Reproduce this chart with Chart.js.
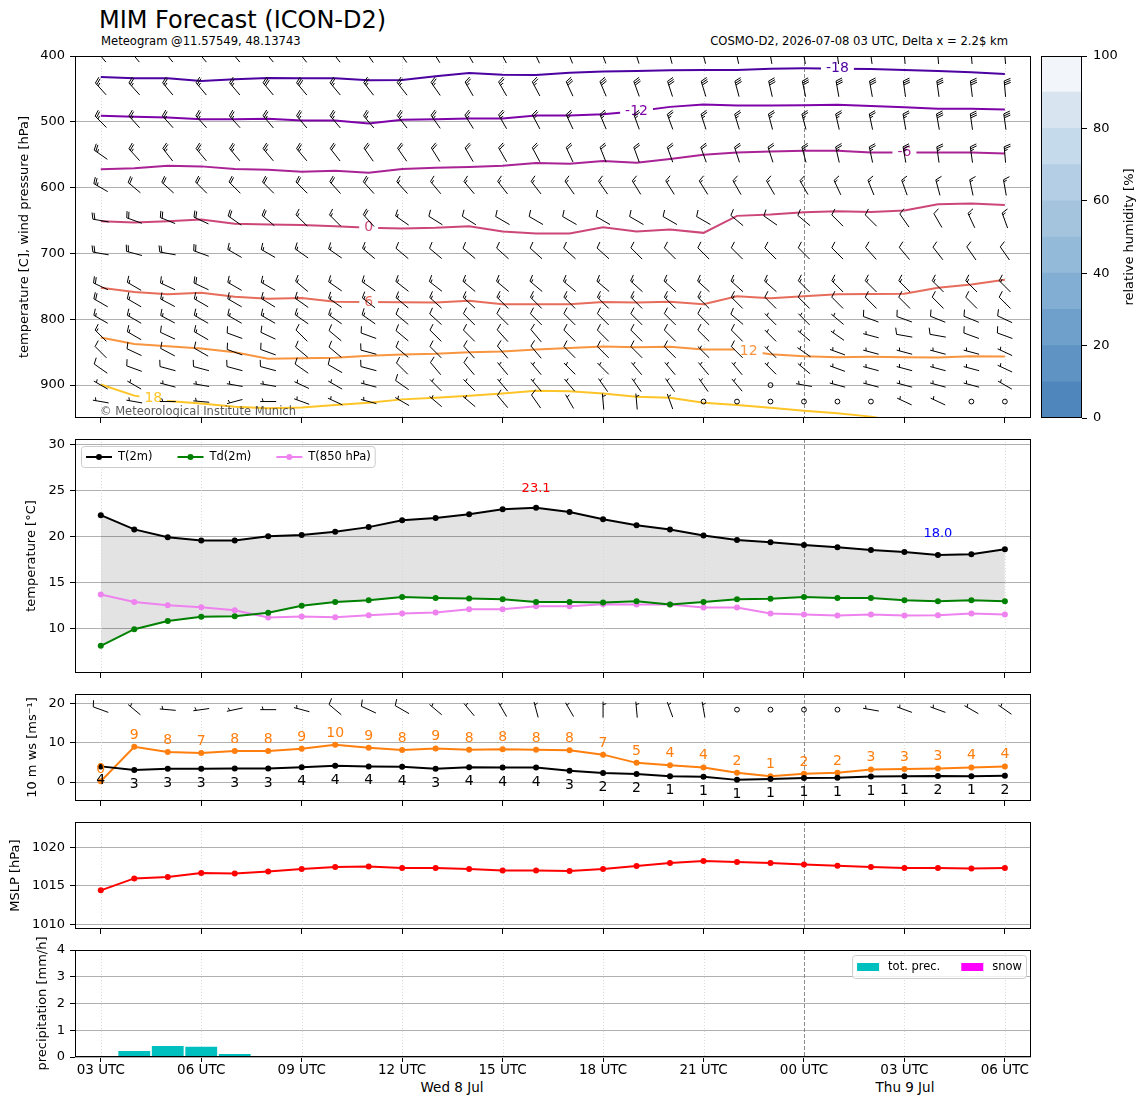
<!DOCTYPE html>
<html><head><meta charset="utf-8">
<script src="https://cdn.jsdelivr.net/npm/chart.js@4.4.1/dist/chart.umd.min.js"></script>
<style>
html,body{margin:0;padding:0;background:#fff;}
body{width:1148px;height:1105px;position:relative;overflow:hidden;font-family:'DejaVu Sans',sans-serif;}
canvas{position:absolute;}
.txt{position:absolute;white-space:nowrap;line-height:1;color:#000;}
</style></head><body>
<div class="txt" style="left:99px;top:8px;font-size:24px;">MIM Forecast (ICON-D2)</div>
<div class="txt" style="left:101px;top:36px;font-size:11.6px;">Meteogram @11.57549, 48.13743</div>
<div class="txt" style="right:140px;top:36px;font-size:11.6px;">COSMO-D2, 2026-07-08 03 UTC, Delta x = 2.2$ km</div>
<div class="txt" style="left:452px;top:1081px;font-size:13.5px;transform:translateX(-50%);">Wed 8 Jul</div>
<div class="txt" style="left:905px;top:1081px;font-size:13.5px;transform:translateX(-50%);">Thu 9 Jul</div>
<canvas id="c1" width="1148" height="384" style="left:0;top:46px;width:1148px;height:384px"></canvas>
<canvas id="cb" width="117" height="384" style="left:1031px;top:46px;width:117px;height:384px"></canvas>
<canvas id="c2" width="1148" height="256" style="left:0;top:429px;width:1148px;height:256px"></canvas>
<canvas id="c3" width="1148" height="129" style="left:0;top:684px;width:1148px;height:129px"></canvas>
<canvas id="c4" width="1148" height="129" style="left:0;top:812px;width:1148px;height:129px"></canvas>
<canvas id="c5" width="1148" height="185" style="left:0;top:920px;width:1148px;height:185px"></canvas>
<script>
// ---------------- time axis ----------------
const hours = [0,1,2,3,4,5,6,7,8,9,10,11,12,13,14,15,16,17,18,19,20,21,22,23,24,25,26,27];
const tickHours = [0,3,6,9,12,15,18,21,24,27];
const tickLabels = ['03 UTC','06 UTC','09 UTC','12 UTC','15 UTC','18 UTC','21 UTC','00 UTC','03 UTC','06 UTC'];
const MIDNIGHT = 21;
const X_MIN = -0.77, X_MAX = 27.78;

// ---------------- panel 1: isotherms (pressure of isotherm, hPa) ----------------
const pressureTicks = [400,500,600,700,800,900];
const isoLevels = [-18,-12,-6,0,6,12,18];
const isoM18 = [431.8,433.8,433.8,437.9,435.4,433.3,433.8,433.8,436.9,436.4,430.8,425.8,428.3,428.8,425.5,423.7,422.7,421.7,421.2,421.2,419.2,418.7,419.2,419.7,421.2,422.7,424.7,427.3];
const isoM12 = [490.9,492.4,493.4,496.0,496.0,495.5,498.0,498.0,502.5,497.0,496.0,495.0,495.0,490.4,490.5,488.4,484.0,477.3,473.7,475.3,475.3,474.7,474.2,475.8,477.8,480.3,480.3,481.3];
const isoM6 = [572.2,570.7,566.7,567.7,571.7,572.7,575.8,574.2,577.3,571.7,569.7,568.7,566.7,562.6,563.8,559.6,562.1,556.6,550.0,546.5,545.0,543.9,543.9,546.5,546.5,546.5,546.5,548.0];
const iso0 = [651.0,653.0,651.0,648.5,655.0,656.0,656.6,658.6,661.0,662.0,661.0,658.6,666.7,669.7,669.5,660.1,666.7,663.6,668.7,642.9,640.9,637.4,635.9,636.9,634.8,625.3,624.2,626.3];
const iso6 = [752.0,758.6,762.0,759.6,765.7,768.7,767.7,773.2,773.7,774.2,774.7,771.7,777.3,777.3,777.0,773.7,774.7,773.2,777.3,765.2,768.2,765.2,762.1,761.6,761.1,752.0,747.0,739.9];
const iso12 = [827.8,837.4,840.9,844.4,850.0,860.1,859.1,858.6,855.6,853.5,852.5,850.0,849.0,846.0,843.7,841.4,842.4,841.9,846.0,846.0,853.0,856.0,857.6,857.1,857.6,858.1,856.0,856.6];
const iso18 = [899.0,916.0,924.0,928.0,932.8,935.0,934.0,930.3,926.8,921.7,919.2,916.2,912.6,908.6,909.5,912.6,917.7,919.2,926.8,930.3,934.3,938.9,942.9,947.9,956.0,null,null,null];
const isoSeries = [isoM18, isoM12, isoM6, iso0, iso6, iso12, iso18];
const isoColors = ['#4c02a1','#7e03a8','#a92395','#cc4778','#e66c5c','#f89540','#fdc527'];
const isoLabelAt = [22, 16, 24, 8, 8, 19.35, 1.57];

// ---------------- panel 1: wind barbs (direction deg, speed kt) ----------------
const barbLevels = [400,450,500,550,600,650,700,750,775,800,825,850,875,900,925];
const dir400 = [320,320,320,320,320,320,322,322,325,325,328,330,332,335,338,340,342,345,345,348,350,350,352,352,355,355,355,355];
const spd400 = [25,25,25,25,25,25,25,25,25,25,25,25,30,30,30,30,30,30,30,30,30,30,30,30,30,30,30,30];
const dir450 = [318,318,320,320,320,320,320,320,322,322,325,330,330,332,335,337,340,342,343,345,347,348,350,350,352,352,353,355];
const spd450 = [25,25,25,25,25,30,30,25,25,25,25,25,25,25,30,30,30,30,30,30,30,30,30,30,30,30,30,30];
const dir500 = [315,318,318,318,318,320,320,320,320,322,325,328,330,332,335,337,340,340,342,343,345,345,347,348,350,350,352,352];
const spd500 = [25,25,25,25,25,25,25,25,25,25,25,25,25,25,25,25,25,25,25,25,25,25,25,25,25,30,30,30];
const dir550 = [305,318,322,320,320,320,320,322,325,325,328,330,330,332,335,338,340,340,340,342,342,345,347,348,350,352,352,355];
const spd550 = [25,25,25,25,25,25,25,20,20,20,20,20,20,20,20,20,20,20,20,20,20,25,25,25,25,25,25,25];
const dir600 = [300,310,312,315,315,315,315,318,318,318,320,320,322,322,325,325,328,328,328,330,330,330,335,338,340,345,348,350];
const spd600 = [25,20,20,20,20,20,20,20,20,15,15,15,15,15,15,15,15,15,15,15,15,15,15,15,15,15,15,15];
const dir650 = [280,290,292,295,305,310,315,315,318,305,302,302,300,300,300,300,300,300,300,310,305,310,315,315,325,330,335,340];
const spd650 = [20,20,20,20,20,20,15,15,20,15,10,10,10,10,10,10,10,10,10,10,10,10,10,10,10,10,15,15];
const dir700 = [280,285,280,290,300,300,305,305,310,310,310,310,312,312,312,312,315,315,315,315,315,315,315,318,320,322,325,325];
const spd700 = [20,20,20,20,15,15,15,15,15,10,10,10,10,10,10,10,10,10,10,10,10,10,10,10,10,10,10,10];
const dir750 = [295,300,295,295,300,300,310,305,305,308,308,310,310,310,310,310,312,312,312,312,312,315,315,315,315,315,315,315];
const spd750 = [20,15,15,20,15,15,15,15,15,15,15,15,15,15,15,15,15,15,15,15,15,15,15,15,15,15,15,15];
const dir775 = [300,300,298,300,300,302,305,305,308,310,312,312,315,315,315,315,315,315,315,315,315,315,315,315,315,315,315,315];
const spd775 = [20,15,15,15,15,15,15,15,15,15,15,15,15,15,15,15,15,15,15,15,10,10,10,10,10,10,10,10];
const dir800 = [300,300,298,300,300,300,305,305,305,310,312,315,315,315,315,315,315,315,315,310,315,315,310,290,290,292,292,295];
const spd800 = [15,15,15,15,15,15,15,15,15,10,10,10,10,10,10,10,10,10,10,10,5,5,5,10,10,10,10,10];
const dir825 = [315,300,295,300,290,295,315,310,290,310,315,315,318,320,315,315,315,315,315,315,315,310,305,285,280,280,290,290];
const spd825 = [15,15,10,15,10,10,10,10,10,10,10,10,10,10,10,10,10,10,10,10,5,5,5,5,10,10,10,10];
const dir850 = [315,295,298,300,290,290,310,310,285,310,315,318,320,320,315,315,315,315,315,315,315,305,290,285,285,285,285,295];
const spd850 = [10,10,10,10,10,10,10,10,10,10,10,10,10,10,10,10,10,10,5,10,5,5,5,5,5,5,5,5];
const dir875 = [305,290,285,285,285,285,305,300,285,315,320,320,320,320,315,315,320,320,320,320,315,310,290,285,285,285,285,295];
const spd875 = [10,10,10,10,10,10,10,10,10,10,10,10,5,5,5,5,5,5,5,5,5,5,5,5,5,5,5,5];
const dir900 = [300,300,285,280,280,280,295,300,285,305,315,315,320,320,320,325,325,325,325,320,0,280,285,285,285,285,285,300];
const spd900 = [5,5,5,5,5,5,5,5,5,10,5,5,5,5,5,5,5,5,5,5,0,5,5,5,5,5,5,5];
const dir925 = [280,280,270,275,255,270,290,295,285,300,310,310,320,325,330,355,355,340,0,0,0,0,0,0,295,295,0,0];
const spd925 = [5,5,5,5,5,5,5,5,5,5,5,5,10,10,5,5,5,5,0,0,0,0,0,0,5,5,0,0];
const barbDirs = [dir400,dir450,dir500,dir550,dir600,dir650,dir700,dir750,dir775,dir800,dir825,dir850,dir875,dir900,dir925];
const barbSpds = [spd400,spd450,spd500,spd550,spd600,spd650,spd700,spd750,spd775,spd800,spd825,spd850,spd875,spd900,spd925];

// relative humidity colour bar
const rhBounds = [0,10,20,30,40,50,60,70,80,90,100];
const rhColors = ['#4f86bb','#5e93c3','#6fa0cb','#83aed3','#94bad9','#a4c4de','#b4cfe5','#c5daea','#d8e4f0','#f2f6fa'];
const rhTicks = [0,20,40,60,80,100];

// ---------------- panel 2: temperatures ----------------
const t2m = [22.3,20.75,19.9,19.55,19.55,20.0,20.15,20.5,21.0,21.75,22.0,22.4,22.95,23.1,22.65,21.85,21.2,20.75,20.1,19.6,19.35,19.05,18.8,18.5,18.3,17.98,18.05,18.6];
const td2m = [8.1,9.9,10.8,11.25,11.3,11.7,12.45,12.85,13.05,13.4,13.3,13.25,13.15,12.85,12.85,12.8,12.95,12.6,12.85,13.15,13.2,13.4,13.3,13.3,13.05,12.95,13.05,12.95];
const t850 = [13.67,12.87,12.51,12.29,11.97,11.17,11.28,11.2,11.42,11.6,11.71,12.08,12.08,12.4,12.4,12.62,12.58,12.58,12.26,12.26,11.6,11.5,11.39,11.5,11.39,11.42,11.6,11.5];
const tempTicks = [10,15,20,25,30];

// ---------------- panel 3: 10 m wind ----------------
const ws10 = [4.0,3.06,3.4,3.4,3.45,3.45,3.8,4.17,4.0,3.9,3.4,3.8,3.7,3.7,2.9,2.3,2.05,1.45,1.35,0.55,0.75,1.0,1.1,1.4,1.45,1.55,1.45,1.6];
const gust10 = [0.2,9.0,7.65,7.4,7.9,7.9,8.5,9.55,8.76,8.16,8.6,8.25,8.4,8.25,8.1,7.0,4.9,4.3,3.7,2.4,1.45,2.1,2.4,3.2,3.3,3.45,3.7,4.0];
const dir10 = [290,310,275,262,258,270,285,310,295,300,310,320,330,345,330,0,355,340,350,0,0,0,0,280,290,290,300,305];
const windTicks = [0,10,20];
const BARB10_LEVEL = 18.5;

// ---------------- panel 4: MSLP ----------------
const mslp = [1014.42,1015.97,1016.15,1016.67,1016.62,1016.88,1017.19,1017.45,1017.53,1017.32,1017.32,1017.19,1017.01,1017.01,1016.93,1017.19,1017.58,1017.97,1018.23,1018.1,1017.97,1017.79,1017.62,1017.45,1017.32,1017.32,1017.27,1017.32];
const mslpTicks = [1010,1015,1020];

// ---------------- panel 5: precipitation ----------------
const precip = [0,0.22,0.41,0.38,0.11,0,0,0,0,0,0,0,0,0,0,0,0,0,0,0,0,0,0,0,0,0,0,0];
const snow = [0,0,0,0,0,0,0,0,0,0,0,0,0,0,0,0,0,0,0,0,0,0,0,0,0,0,0,0];
const precipTicks = [0,1,2,3,4];

// =====================================================================
Chart.defaults.font.family = "'DejaVu Sans', sans-serif";
Chart.defaults.font.size = 13;
Chart.defaults.color = '#000';
const FONT = "'DejaVu Sans', sans-serif";

const pts = arr => hours.map((h, i) => ({x: h, y: arr[i]}));
function valAt(arr, h) {
  const i = Math.floor(h), f = h - i;
  if (f === 0 || i + 1 >= arr.length) return arr[i];
  return arr[i] * (1 - f) + arr[i + 1] * f;
}

function xScale(showLabels, height) {
  return {
    type: 'linear', min: X_MIN, max: X_MAX, offset: false,
    afterBuildTicks: s => { s.ticks = tickHours.map(v => ({value: v})); },
    afterFit: s => { s.height = height; s.paddingLeft = 0; s.paddingRight = 0; },
    ticks: { display: showLabels, autoSkip: false, maxRotation: 0, minRotation: 0, padding: 0,
             font: {size: 13.5}, color: '#000', callback: (v, i) => tickLabels[i] },
    grid: { offset: false, drawOnChartArea: false, tickLength: 5, tickColor: '#000', tickWidth: 1 },
    border: { display: false }
  };
}
function yScale(min, max, ticks, reverse) {
  return {
    type: 'linear', min: min, max: max, reverse: !!reverse,
    afterBuildTicks: s => { s.ticks = ticks.map(v => ({value: v})); },
    afterFit: s => { s.width = 75; s.paddingTop = 0; s.paddingBottom = 0; },
    ticks: { padding: 5, font: {size: 13}, color: '#000', callback: v => String(v) },
    grid: { color: '#b0b0b0', lineWidth: 1, tickLength: 5, tickColor: '#000', tickWidth: 1 },
    border: { display: false },
    title: { display: false }
  };
}
function yTitlePlugin(text, cx) {
  return {
    id: 'ytitle',
    afterDraw(chart) {
      const a = chart.chartArea, c = chart.ctx;
      c.save(); c.font = '13px ' + FONT; c.fillStyle = '#000'; c.textAlign = 'center'; c.textBaseline = 'middle';
      c.translate(cx, (a.top + a.bottom) / 2); c.rotate(-Math.PI / 2);
      c.fillText(text, 0, 0); c.restore();
    }
  };
}
const boxPlugin = {
  id: 'box',
  afterDraw(chart) {
    const a = chart.chartArea, c = chart.ctx;
    c.save(); c.strokeStyle = '#000'; c.lineWidth = 1; c.setLineDash([]);
    c.strokeRect(Math.round(a.left) + 0.5, Math.round(a.top) + 0.5, Math.round(a.right - a.left) - 1, Math.round(a.bottom - a.top) - 1);
    c.restore();
  }
};
const vgridPlugin = {
  id: 'vgrid',
  beforeDatasetsDraw(chart) {
    const xs = chart.scales.x, a = chart.chartArea, c = chart.ctx;
    c.save();
    tickHours.forEach(h => {
      const px = Math.round(xs.getPixelForValue(h)) + 0.5;
      c.beginPath();
      if (h === MIDNIGHT) { c.strokeStyle = '#808080'; c.setLineDash([4, 2]); c.lineWidth = 0.9; }
      else { c.strokeStyle = '#d4d4d4'; c.setLineDash([1, 2]); c.lineWidth = 0.8; }
      c.moveTo(px, a.top); c.lineTo(px, a.bottom); c.stroke();
    });
    c.restore();
  }
};

function drawBarb(ctx, x, y, dir, spd, L) {
  const mag = 5 * Math.round(spd / 5);
  ctx.save();
  ctx.strokeStyle = '#000'; ctx.fillStyle = '#000'; ctx.lineWidth = 1; ctx.setLineDash([]);
  if (mag < 5) {
    ctx.beginPath(); ctx.arc(x, y, 0.15 * L, 0, 2 * Math.PI); ctx.stroke(); ctx.restore(); return;
  }
  const r = dir * Math.PI / 180;
  const sx = Math.sin(r), sy = -Math.cos(r);
  const fx = Math.cos(r), fy = Math.sin(r);
  const H = 0.4 * L, W = 0.25 * L, S = 0.125 * L;
  const bx = x - sx * L / 2, by = y - sy * L / 2;
  const P = (o, h) => [bx + sx * o + fx * h, by + sy * o + fy * h];
  const nFlag = Math.floor(mag / 50);
  const rem = mag - 50 * nFlag;
  const nFull = Math.floor(rem / 10);
  const half = rem - 10 * nFull >= 5;
  ctx.beginPath();
  let p = P(0, 0); ctx.moveTo(p[0], p[1]);
  p = P(L, 0); ctx.lineTo(p[0], p[1]);
  let off = L;
  for (let i = 0; i < nFlag; i++) {
    const a1 = P(off, 0), a2 = P(off - W / 2, H), a3 = P(off - W, 0);
    ctx.moveTo(a1[0], a1[1]); ctx.lineTo(a2[0], a2[1]); ctx.lineTo(a3[0], a3[1]);
    off -= W + S;
  }
  for (let i = 0; i < nFull; i++) {
    const a1 = P(off, 0), a2 = P(off + W / 2, H);
    ctx.moveTo(a1[0], a1[1]); ctx.lineTo(a2[0], a2[1]);
    off -= S;
  }
  if (half) {
    if (off === L) off -= 1.5 * S;
    const a1 = P(off, 0), a2 = P(off + W / 4, H / 2);
    ctx.moveTo(a1[0], a1[1]); ctx.lineTo(a2[0], a2[1]);
  }
  ctx.stroke();
  ctx.restore();
}
const BARB_LEN = 16;

// ---------------- chart 1 ----------------
let isoRects = [];
const isoPlugin = {
  id: 'iso',
  beforeDatasetsDraw(chart) {
    const ctx = chart.ctx, xs = chart.scales.x, ys = chart.scales.y;
    ctx.save();
    ctx.font = '14px ' + FONT;
    isoRects = isoSeries.map((arr, j) => {
      const h = isoLabelAt[j];
      const v = valAt(arr, h);
      const text = String(isoLevels[j]);
      return { px: xs.getPixelForValue(h), py: ys.getPixelForValue(v), w: ctx.measureText(text).width + 10, h: 16, text: text, color: isoColors[j] };
    });
    ctx.beginPath();
    ctx.rect(0, 0, chart.width, chart.height);
    isoRects.forEach(r => ctx.rect(r.px - r.w / 2, r.py - r.h / 2, r.w, r.h));
    ctx.clip('evenodd');
  },
  afterDatasetsDraw(chart) {
    const ctx = chart.ctx, xs = chart.scales.x, ys = chart.scales.y, a = chart.chartArea;
    ctx.restore();
    ctx.save();
    ctx.beginPath(); ctx.rect(a.left, a.top, a.right - a.left, a.bottom - a.top); ctx.clip();
    ctx.font = '14px ' + FONT; ctx.textAlign = 'center'; ctx.textBaseline = 'middle';
    isoRects.forEach(r => { ctx.fillStyle = r.color; ctx.fillText(r.text, r.px, r.py); });
    barbLevels.forEach((lev, li) => {
      const py = ys.getPixelForValue(lev);
      hours.forEach((h, i) => {
        drawBarb(ctx, xs.getPixelForValue(h), py, barbDirs[li][i], barbSpds[li][i], BARB_LEN);
      });
    });
    ctx.font = '11.5px ' + FONT; ctx.textAlign = 'left'; ctx.textBaseline = 'alphabetic';
    ctx.fillStyle = 'rgba(60,60,60,0.85)';
    ctx.fillText('\u00a9 Meteorological Institute Munich', a.left + 25, a.bottom - 3);
    ctx.restore();
  }
};
new Chart(document.getElementById('c1'), {
  type: 'line',
  data: { datasets: isoSeries.map((arr, j) => ({
    label: String(isoLevels[j]), data: pts(arr), borderColor: isoColors[j], borderWidth: 2,
    pointRadius: 0, tension: 0, fill: false, spanGaps: false })) },
  options: {
    responsive: false, animation: false, devicePixelRatio: 1, events: [],
    layout: { padding: { top: 10, right: 117, left: 0, bottom: 0 } },
    plugins: { legend: { display: false }, tooltip: { enabled: false } },
    scales: { x: xScale(false, 12), y: yScale(400, 950, pressureTicks, true) }
  },
  plugins: [vgridPlugin, isoPlugin, boxPlugin, yTitlePlugin('temperature [C], wind pressure [hPa]', 25)]
});

// ---------------- colour bar ----------------
new Chart(document.getElementById('cb'), {
  type: 'bar',
  data: { labels: ['RH'], datasets: rhColors.map((c, i) => ({
    data: [rhBounds[i + 1] - rhBounds[i]], backgroundColor: c, borderWidth: 0,
    barPercentage: 1, categoryPercentage: 1 })) },
  options: {
    responsive: false, animation: false, devicePixelRatio: 1, events: [],
    layout: { padding: { top: 10, right: 0, left: 10, bottom: 12 } },
    plugins: { legend: { display: false }, tooltip: { enabled: false } },
    scales: {
      x: { display: false, stacked: true },
      y: { stacked: true, position: 'right', min: 0, max: 100,
           afterBuildTicks: s => { s.ticks = rhTicks.map(v => ({value: v})); },
           afterFit: s => { s.width = 66; s.paddingTop = 0; s.paddingBottom = 0; },
           ticks: { padding: 6, font: {size: 13}, color: '#000', callback: v => String(v) },
           grid: { drawOnChartArea: false, tickLength: 5, tickColor: '#000', tickWidth: 1 },
           border: { display: false } }
    }
  },
  plugins: [boxPlugin, {
    id: 'cbtitle',
    afterDraw(chart) {
      const a = chart.chartArea, c = chart.ctx;
      c.save(); c.font = '13px ' + FONT; c.fillStyle = '#000'; c.textAlign = 'center'; c.textBaseline = 'middle';
      c.translate(99, (a.top + a.bottom) / 2); c.rotate(-Math.PI / 2);
      c.fillText('relative humidity [%]', 0, 0); c.restore();
    }
  }]
});

// ---------------- chart 2 ----------------
function drawLineLegend(ctx, x, y, items) {
  ctx.save();
  ctx.font = '11.5px ' + FONT;
  let w = 5;
  items.forEach((it, i) => { w += 26 + 6 + ctx.measureText(it.text).width + (i < items.length - 1 ? 25 : 4); });
  const h = 21;
  ctx.beginPath(); ctx.roundRect(x + 0.5, y + 0.5, w, h, 3);
  ctx.fillStyle = 'rgba(255,255,255,0.8)'; ctx.fill();
  ctx.strokeStyle = '#cccccc'; ctx.lineWidth = 1; ctx.stroke();
  let cx = x + 5; const cy = y + h / 2 + 0.5;
  items.forEach(it => {
    ctx.strokeStyle = it.color; ctx.lineWidth = 2;
    ctx.beginPath(); ctx.moveTo(cx, cy); ctx.lineTo(cx + 26, cy); ctx.stroke();
    ctx.fillStyle = it.color; ctx.beginPath(); ctx.arc(cx + 13, cy, 3, 0, 2 * Math.PI); ctx.fill();
    ctx.fillStyle = '#000'; ctx.textAlign = 'left'; ctx.textBaseline = 'middle';
    ctx.fillText(it.text, cx + 32, cy);
    cx += 32 + ctx.measureText(it.text).width + 25;
  });
  ctx.restore();
}
const tempPlugin = {
  id: 'temp',
  afterDatasetsDraw(chart) {
    const ctx = chart.ctx, xs = chart.scales.x, ys = chart.scales.y, a = chart.chartArea;
    const maxV = Math.max(...t2m), minV = Math.min(...t2m);
    const iMax = t2m.indexOf(maxV), iMin = t2m.indexOf(minV);
    ctx.save(); ctx.font = '13px ' + FONT; ctx.textAlign = 'center'; ctx.textBaseline = 'middle';
    ctx.fillStyle = '#ff0000'; ctx.fillText(maxV.toFixed(1), xs.getPixelForValue(hours[iMax]), ys.getPixelForValue(maxV + 2.1));
    ctx.fillStyle = '#0000ff'; ctx.fillText(minV.toFixed(1), xs.getPixelForValue(hours[iMin]), ys.getPixelForValue(minV + 2.3));
    ctx.restore();
    drawLineLegend(ctx, a.left + 6, a.top + 7, chart.data.datasets.map(d => ({text: d.label, color: d.borderColor})));
  }
};
new Chart(document.getElementById('c2'), {
  type: 'line',
  data: { datasets: [
    { label: 'T(2m)', data: pts(t2m), borderColor: '#000000', backgroundColor: 'rgba(0,0,0,0.11)', pointBackgroundColor: '#000000',
      borderWidth: 2, pointRadius: 3, pointBorderWidth: 0, tension: 0, fill: { target: 1 } },
    { label: 'Td(2m)', data: pts(td2m), borderColor: '#008000', pointBackgroundColor: '#008000',
      borderWidth: 2, pointRadius: 3, pointBorderWidth: 0, tension: 0, fill: false },
    { label: 'T(850 hPa)', data: pts(t850), borderColor: '#ee82ee', pointBackgroundColor: '#ee82ee',
      borderWidth: 2, pointRadius: 3, pointBorderWidth: 0, tension: 0, fill: false }
  ] },
  options: {
    responsive: false, animation: false, devicePixelRatio: 1, events: [],
    layout: { padding: { top: 10, right: 117, left: 0, bottom: 0 } },
    plugins: { legend: { display: false }, tooltip: { enabled: false }, filler: { drawTime: 'beforeDatasetsDraw' } },
    scales: { x: xScale(false, 12), y: yScale(5.14, 30.58, tempTicks, false) }
  },
  plugins: [vgridPlugin, tempPlugin, boxPlugin, yTitlePlugin('temperature [°C]', 32)]
});

// ---------------- chart 3 ----------------
const windPlugin = {
  id: 'wind',
  afterDatasetsDraw(chart) {
    const ctx = chart.ctx, xs = chart.scales.x, ys = chart.scales.y, a = chart.chartArea;
    ctx.save();
    ctx.beginPath(); ctx.rect(a.left, a.top, a.right - a.left, a.bottom - a.top); ctx.clip();
    const by = ys.getPixelForValue(BARB10_LEVEL);
    hours.forEach((h, i) => drawBarb(ctx, xs.getPixelForValue(h), by, dir10[i], ws10[i] * 1.94384, BARB_LEN));
    ctx.font = '14px ' + FONT; ctx.textAlign = 'center'; ctx.textBaseline = 'middle';
    hours.forEach((h, i) => {
      const px = xs.getPixelForValue(h);
      ctx.fillStyle = '#ff7f0e'; ctx.fillText(String(Math.round(gust10[i])), px, ys.getPixelForValue(gust10[i] + 3));
      ctx.fillStyle = '#000'; ctx.fillText(String(Math.round(ws10[i])), px, ys.getPixelForValue(ws10[i] - 3.7));
    });
    ctx.restore();
  }
};
new Chart(document.getElementById('c3'), {
  type: 'line',
  data: { datasets: [
    { label: 'mean', data: pts(ws10), borderColor: '#000000', pointBackgroundColor: '#000000',
      borderWidth: 2, pointRadius: 3, pointBorderWidth: 0, tension: 0, fill: false },
    { label: 'gust', data: pts(gust10), borderColor: '#ff7f0e', pointBackgroundColor: '#ff7f0e',
      borderWidth: 2, pointRadius: 3, pointBorderWidth: 0, tension: 0, fill: false }
  ] },
  options: {
    responsive: false, animation: false, devicePixelRatio: 1, events: [],
    layout: { padding: { top: 10, right: 117, left: 0, bottom: 0 } },
    plugins: { legend: { display: false }, tooltip: { enabled: false } },
    scales: { x: xScale(false, 12), y: yScale(-4.85, 22.5, windTicks, false) }
  },
  plugins: [vgridPlugin, windPlugin, boxPlugin, yTitlePlugin('10 m ws [ms\u207b\u00b9]', 33)]
});

// ---------------- chart 4 ----------------
new Chart(document.getElementById('c4'), {
  type: 'line',
  data: { datasets: [
    { label: 'MSLP', data: pts(mslp), borderColor: '#ff0000', pointBackgroundColor: '#ff0000',
      borderWidth: 2, pointRadius: 3, pointBorderWidth: 0, tension: 0, fill: false }
  ] },
  options: {
    responsive: false, animation: false, devicePixelRatio: 1, events: [],
    layout: { padding: { top: 10, right: 117, left: 0, bottom: 0 } },
    plugins: { legend: { display: false }, tooltip: { enabled: false } },
    scales: { x: xScale(false, 12), y: yScale(1009.4, 1023.3, mslpTicks, false) }
  },
  plugins: [vgridPlugin, boxPlugin, yTitlePlugin('MSLP [hPa]', 16)]
});

// ---------------- chart 5 ----------------
const precipLegend = {
  id: 'plegend',
  afterDatasetsDraw(chart) {
    const ctx = chart.ctx, a = chart.chartArea;
    const items = chart.data.datasets.map(d => ({text: d.label, color: d.backgroundColor}));
    ctx.save(); ctx.font = '11.5px ' + FONT;
    let w = 5;
    items.forEach((it, i) => { w += 22 + 9 + ctx.measureText(it.text).width + (i < items.length - 1 ? 21 : 4); });
    const h = 23, x = a.right - 5 - w, y = a.top + 5;
    ctx.beginPath(); ctx.roundRect(x + 0.5, y + 0.5, w, h, 3);
    ctx.fillStyle = 'rgba(255,255,255,0.8)'; ctx.fill();
    ctx.strokeStyle = '#cccccc'; ctx.lineWidth = 1; ctx.stroke();
    let cx = x + 5; const cy = y + h / 2 + 0.5;
    items.forEach(it => {
      ctx.fillStyle = it.color; ctx.fillRect(cx, cy - 4, 22, 8);
      ctx.fillStyle = '#000'; ctx.textAlign = 'left'; ctx.textBaseline = 'middle';
      ctx.fillText(it.text, cx + 31, cy);
      cx += 31 + ctx.measureText(it.text).width + 21;
    });
    ctx.restore();
  }
};
new Chart(document.getElementById('c5'), {
  type: 'bar',
  data: { datasets: [
    { label: 'tot. prec.', data: pts(precip), backgroundColor: '#00bfbf', borderWidth: 0, grouped: false,
      barPercentage: 0.95, categoryPercentage: 1 },
    { label: 'snow', data: pts(snow), backgroundColor: '#ff00ff', borderWidth: 0, grouped: false,
      barPercentage: 0.95, categoryPercentage: 1 }
  ] },
  options: {
    responsive: false, animation: false, devicePixelRatio: 1, events: [],
    layout: { padding: { top: 30, right: 117, left: 0, bottom: 0 } },
    plugins: { legend: { display: false }, tooltip: { enabled: false } },
    scales: { x: xScale(true, 48), y: yScale(0, 4, precipTicks, false) }
  },
  plugins: [vgridPlugin, precipLegend, boxPlugin, yTitlePlugin('precipitation [mm/h]', 43)]
});
</script>
</body></html>
